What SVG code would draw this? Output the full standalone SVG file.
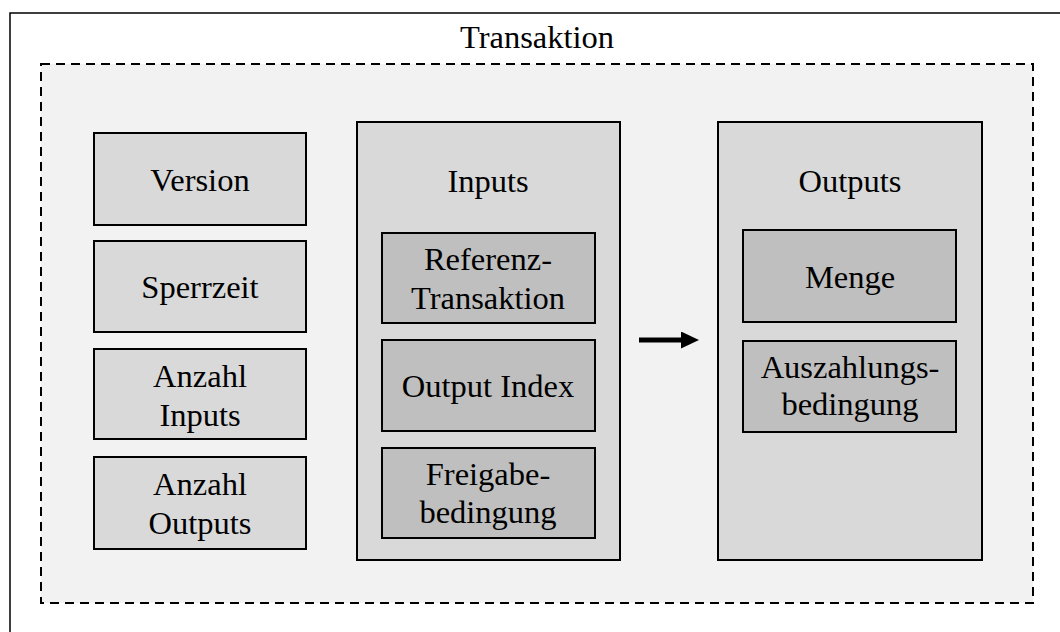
<svg xmlns="http://www.w3.org/2000/svg" width="1060" height="632" viewBox="0 0 1060 632">
  <style>
    .frame { fill: #ffffff; stroke: #000; stroke-width: 1.5; }
    .tx { fill: #f2f2f2; stroke: #000; stroke-width: 2; stroke-dasharray: 9 6; }
    .field { fill: #d9d9d9; stroke: #000; stroke-width: 2; }
    .sub { fill: #bfbfbf; stroke: #000; stroke-width: 2; }
    text { font-family: "Liberation Serif", "Times New Roman", serif; font-size: 32.5px; fill: #000; text-anchor: middle; }
  </style>
  <defs>
    <marker id="head" viewBox="0 0 18 17" refX="0" refY="8.5" markerWidth="18" markerHeight="17" markerUnits="userSpaceOnUse" orient="auto">
      <path d="M0,0 L18,8.5 L0,17 Z" fill="#000"/>
    </marker>
  </defs>

  <rect class="frame" x="10" y="13" width="1070" height="640"/>
  <g id="transaktion">
    <rect class="tx" x="41" y="64" width="992" height="539"/>
    <text x="537" y="48">Transaktion</text>
  </g>

  <g id="version">
    <rect class="field" x="94" y="133" width="212" height="92"/>
    <text x="200" y="191">Version</text>
  </g>
  <g id="sperrzeit">
    <rect class="field" x="94" y="241" width="212" height="91"/>
    <text x="200" y="298">Sperrzeit</text>
  </g>
  <g id="anzahl-inputs">
    <rect class="field" x="94" y="349" width="212" height="90"/>
    <text x="200" y="387">Anzahl</text>
    <text x="200" y="426">Inputs</text>
  </g>
  <g id="anzahl-outputs">
    <rect class="field" x="94" y="457" width="212" height="92"/>
    <text x="200" y="495">Anzahl</text>
    <text x="200" y="534">Outputs</text>
  </g>

  <g id="inputs">
    <rect class="field" x="357" y="122" width="263" height="438"/>
    <text x="488" y="192">Inputs</text>
  </g>
  <g id="referenz-transaktion">
    <rect class="sub" x="382" y="233" width="213" height="90"/>
    <text x="488" y="270">Referenz-</text>
    <text x="488" y="309">Transaktion</text>
  </g>
  <g id="output-index">
    <rect class="sub" x="382" y="340" width="213" height="91"/>
    <text x="488" y="397">Output Index</text>
  </g>
  <g id="freigabebedingung">
    <rect class="sub" x="382" y="448" width="213" height="90"/>
    <text x="488" y="485">Freigabe-</text>
    <text x="488" y="523">bedingung</text>
  </g>

  <g id="outputs">
    <rect class="field" x="718" y="122" width="264" height="438"/>
    <text x="850" y="192">Outputs</text>
  </g>
  <g id="menge">
    <rect class="sub" x="743" y="230" width="213" height="92"/>
    <text x="850" y="288">Menge</text>
  </g>
  <g id="auszahlungsbedingung">
    <rect class="sub" x="743" y="341" width="213" height="91"/>
    <text x="850" y="378">Auszahlungs-</text>
    <text x="850" y="415">bedingung</text>
  </g>

  <g id="connectors">
    <line x1="639" y1="340" x2="681" y2="340" stroke="#000" stroke-width="5" marker-end="url(#head)"/>
  </g>
</svg>
